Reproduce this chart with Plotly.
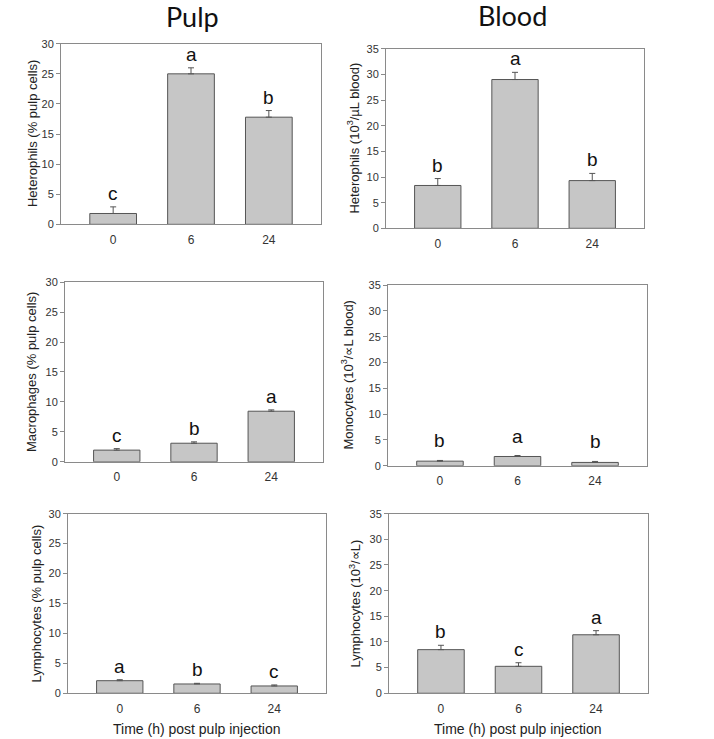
import plotly.graph_objects as go

W, H = 714, 739

categories = ["0", "6", "24"]

pulp_het = [1.8, 25.0, 17.8]
pulp_het_err = [1.1, 1.0, 1.1]
pulp_het_letters = ["c", "a", "b"]

blood_het = [8.35, 29.0, 9.3]
blood_het_err = [1.35, 1.4, 1.4]
blood_het_letters = ["b", "a", "b"]

pulp_mac = [1.95, 3.1, 8.45]
pulp_mac_err = [0.25, 0.23, 0.22]
pulp_mac_letters = ["c", "b", "a"]

blood_mono = [0.9, 1.8, 0.65]
blood_mono_err = [0.13, 0.19, 0.19]
blood_mono_letters = ["b", "a", "b"]

pulp_lym = [2.1, 1.55, 1.22]
pulp_lym_err = [0.17, 0.11, 0.17]
pulp_lym_letters = ["a", "b", "c"]

blood_lym = [8.5, 5.25, 11.4]
blood_lym_err = [0.85, 0.7, 0.8]
blood_lym_letters = ["b", "c", "a"]

pulp_ymax = 30
blood_ymax = 35

y_titles = [
    "Heterophils (% pulp cells)",
    "Heterophils (10<sup>3</sup>/µL blood)",
    "Macrophages (% pulp cells)",
    "Monocytes (10<sup>3</sup>/∝L blood)",
    "Lymphocytes (% pulp cells)",
    "Lymphocytes (10<sup>3</sup>/∝L)",
]
col_titles = ["Pulp", "Blood"]
x_title = "Time (h) post pulp injection"

panels = [
    (pulp_het, pulp_het_err, pulp_het_letters, pulp_ymax),
    (blood_het, blood_het_err, blood_het_letters, blood_ymax),
    (pulp_mac, pulp_mac_err, pulp_mac_letters, pulp_ymax),
    (blood_mono, blood_mono_err, blood_mono_letters, blood_ymax),
    (pulp_lym, pulp_lym_err, pulp_lym_letters, pulp_ymax),
    (blood_lym, blood_lym_err, blood_lym_letters, blood_ymax),
]

# target pixel boxes (left, right, top, bottom)
boxes = [
    (61, 321, 43, 224),
    (386, 644, 48, 228),
    (65, 323, 282, 462),
    (388, 647, 285, 466),
    (68, 326, 514, 694),
    (389, 648, 514, 694),
]
ytitle_x = [32, 353, 32, 348, 36, 355]
letter_shift = [1, 1, 1, 7, 1, 1]

# vertical calibration of the rendered page
VS = 0.986


def py(y):
    return H / 2 + (y - H / 2) / VS


def yp(y):
    return 1 - py(y) / H


FONT = "Liberation Sans, Arial, sans-serif"
AXC = "#8a8a8a"

fig = go.Figure()
layout = dict(
    width=W, height=H, margin=dict(l=0, r=0, t=0, b=0),
    paper_bgcolor="white", plot_bgcolor="white", showlegend=False,
    font=dict(family=FONT, size=11, color="#333"),
)
annotations = []

for i, ((vals, errs, letters, ymax), (l, r, t, b)) in enumerate(zip(panels, boxes)):
    n = i + 1
    xa = "x" if n == 1 else f"x{n}"
    ya = "y" if n == 1 else f"y{n}"
    fig.add_trace(go.Bar(
        x=categories, y=vals, width=0.6,
        marker=dict(color="#c6c6c6", line=dict(color="#555555", width=1)),
        error_y=dict(type="data", array=errs, arrayminus=[0] * len(errs),
                     symmetric=False, color="#555555", thickness=1, width=3),
        xaxis=xa, yaxis=ya, hoverinfo="skip",
    ))
    xkey = "xaxis" if n == 1 else f"xaxis{n}"
    ykey = "yaxis" if n == 1 else f"yaxis{n}"
    layout[xkey] = dict(
        domain=[l / W, r / W], anchor=ya, type="category",
        range=[-0.67, 2.67], showline=True, linecolor=AXC, linewidth=1,
        mirror=True, ticks="outside", ticklen=4, tickcolor="rgba(0,0,0,0)",
        tickfont=dict(size=12, color="#333"), showgrid=False, zeroline=False,
        fixedrange=True,
    )
    layout[ykey] = dict(
        domain=[yp(b), yp(t)], anchor=xa,
        range=[0, ymax], dtick=5, showline=True, linecolor=AXC, linewidth=1,
        mirror=True, ticks="outside", ticklen=4, tickcolor=AXC,
        tickfont=dict(size=11, color="#333"), showgrid=False, zeroline=False,
        fixedrange=True,
    )
    for j, (v, e, let) in enumerate(zip(vals, errs, letters)):
        annotations.append(dict(
            x=j, y=v + e, xref=xa, yref=ya, text=let, showarrow=False,
            xanchor="center", yanchor="bottom", yshift=letter_shift[i],
            font=dict(size=19, color="#111", family=FONT),
        ))
    annotations.append(dict(
        x=ytitle_x[i] / W, y=yp((t + b) / 2), xref="paper", yref="paper",
        text=y_titles[i], showarrow=False, textangle=-90,
        xanchor="center", yanchor="middle",
        font=dict(size=13, color="#222", family=FONT),
    ))

title_font = dict(size=27, color="#111", family="Lato, Open Sans, sans-serif")
annotations.append(dict(x=192 / W, y=yp(16), xref="paper", yref="paper",
                        text=col_titles[0], showarrow=False,
                        xanchor="center", yanchor="middle", font=title_font))
annotations.append(dict(x=512 / W, y=yp(15), xref="paper", yref="paper",
                        text=col_titles[1], showarrow=False,
                        xanchor="center", yanchor="middle", font=title_font))
for xc in (197, 518):
    annotations.append(dict(x=xc / W, y=yp(730), xref="paper", yref="paper",
                            text=x_title, showarrow=False,
                            xanchor="center", yanchor="middle",
                            font=dict(size=14, color="#222", family=FONT)))

layout["annotations"] = annotations
fig.update_layout(**layout)
fig.write_html(
    "out.html",
    config={"responsive": False, "displayModeBar": False},
    post_script="document.body.style.margin='0';document.body.style.overflow='hidden';"
                "document.documentElement.style.overflow='hidden';",
)
